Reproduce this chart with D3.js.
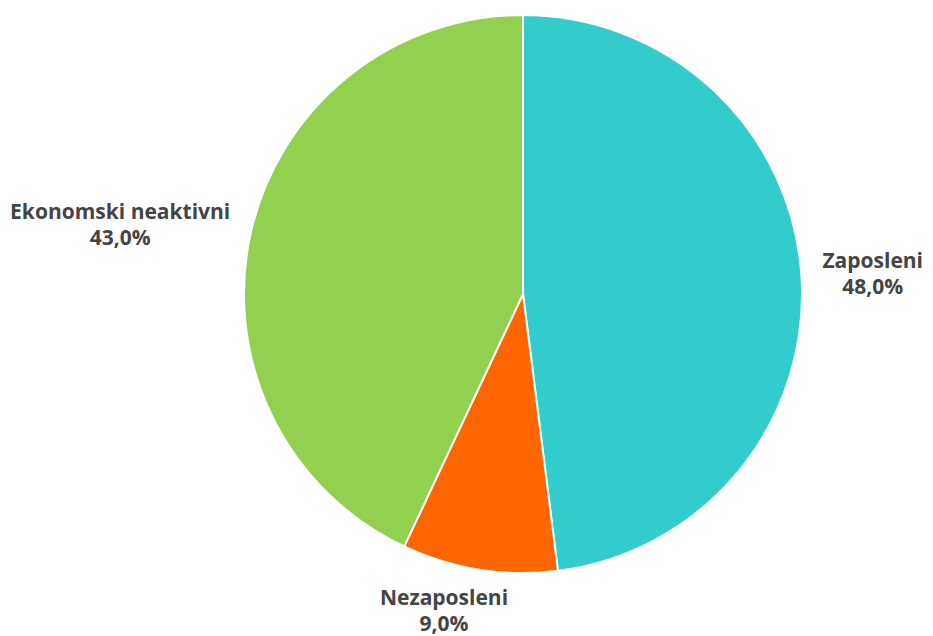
<!DOCTYPE html>
<html><head><meta charset="utf-8">
<script src="https://cdn.jsdelivr.net/npm/d3@7"></script>
<style>body{margin:0;background:#fff}svg{display:block}</style>
</head><body><svg id="c" width="933" height="636"></svg>
<script>
const categories = ["Zaposleni", "Nezaposleni", "Ekonomski neaktivni"];
const values = [48.0, 9.0, 43.0];
const valueLabels = ["48,0%", "9,0%", "43,0%"];
const colors = ["#33CCCC", "#FF6600", "#92D050"];

const W = 933, H = 636, cx = 523, cy = 294, R = 279, labelR = 300;
const FS = 21, LH = 26;
const svg = d3.select("#c");
const data = categories.map((c, i) => ({c, v: values[i], l: valueLabels[i], col: colors[i]}));
const pie = d3.pie().sort(null).value(d => d.v);
const arcs = pie(data);
const arc = d3.arc().innerRadius(0).outerRadius(R);
const g = svg.append("g").attr("transform", `translate(${cx},${cy})`);
g.selectAll("path").data(arcs).join("path")
  .attr("d", arc).attr("fill", d => d.data.col)
  .attr("stroke", "#fff").attr("stroke-width", 2).attr("stroke-linejoin", "round");

const lab = g.selectAll("g.lab").data(arcs).join("g").attr("class", "lab");
lab.each(function(d) {
  const sel = d3.select(this);
  const t = sel.append("text").attr("font-family", "Open Sans, sans-serif")
    .attr("font-weight", 700).attr("font-size", FS).attr("fill", "#444")
    .attr("text-anchor", "middle");
  t.append("tspan").attr("x", 0).attr("y", 0).text(d.data.c);
  t.append("tspan").attr("x", 0).attr("y", LH).text(d.data.l);
  const bb = t.node().getBBox();
  // cap box: from first-line cap top to last baseline
  const boxTop = -0.72 * FS, boxH = LH + 0.72 * FS;
  const a = (d.startAngle + d.endAngle) / 2;
  const px = labelR * Math.sin(a), py = -labelR * Math.cos(a);
  const fx = Math.max(0, Math.min(1, (1 - 3.2 * Math.sin(a)) / 2));
  const fy = (1 + Math.cos(a)) / 2;
  const left = px - fx * bb.width, top = py - fy * boxH;
  sel.attr("transform", `translate(${left - bb.x},${top - boxTop})`);
});
</script></body></html>
